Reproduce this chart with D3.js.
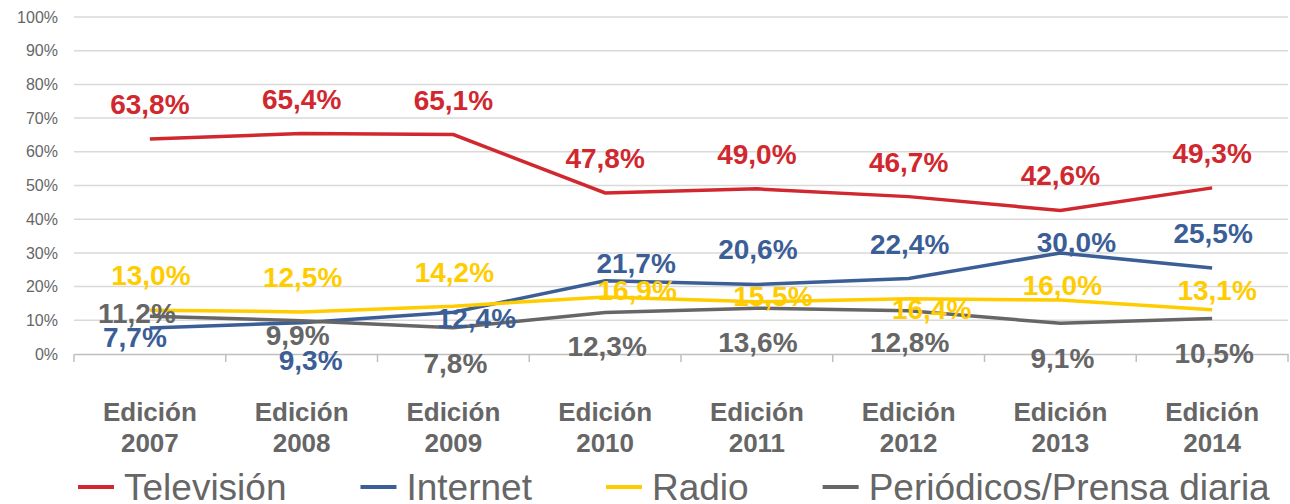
<!DOCTYPE html>
<html>
<head>
<meta charset="utf-8">
<script src="https://cdn.jsdelivr.net/npm/d3@7"></script>
<style>
  html, body { margin: 0; padding: 0; background: #fff; }
  svg { display: block; font-family: "Liberation Sans", Arial, sans-serif; }
</style>
</head>
<body>
<div id="chart"></div>
<script>
// data
const editions = ["2007", "2008", "2009", "2010", "2011", "2012", "2013", "2014"];
const yTicks = [0, 10, 20, 30, 40, 50, 60, 70, 80, 90, 100];
const television = [63.8, 65.4, 65.1, 47.8, 49.0, 46.7, 42.6, 49.3];
const internet = [7.7, 9.3, 12.4, 21.7, 20.6, 22.4, 30.0, 25.5];
const radio = [13.0, 12.5, 14.2, 16.9, 15.5, 16.4, 16.0, 13.1];
const prensa = [11.2, 9.9, 7.8, 12.3, 13.6, 12.8, 9.1, 10.5];
const seriesNames = ["Televisión", "Internet", "Radio", "Periódicos/Prensa diaria"];

const colors = ["#d0282e", "#3b5e96", "#ffcc00", "#666666"];
const allSeries = [television, internet, radio, prensa];

// label offsets (dx, baseline dy) from each point, as placed in the original
const labelOffsets = [
    [[0, -25], [0, -25], [0, -25], [0, -25], [0, -25], [0, -25], [0, -25], [0, -25]],
    [[-15, 19], [9, 47], [23, 16], [31, -8], [1, -26], [1, -25], [16, -1], [1, -25]],
    [[1, -25], [1, -25], [1, -24], [32, 3], [16, 4], [23, 20], [2, -5], [5, -10]],
    [[-13, 7], [-4, 24], [2, 45], [2, 43], [1, 44], [1, 41], [2, 45], [2, 44]]
];

const svgWidth = 1290;
const svgHeight = 504;
const margin = { top: 17, right: 2, bottom: 150, left: 74 };
const width = svgWidth - margin.left - margin.right;
const height = svgHeight - margin.top - margin.bottom;

const svg = d3.select("#chart")
    .append("svg")
    .attr("width", svgWidth)
    .attr("height", svgHeight);

const g = svg.append("g")
    .attr("transform", `translate(${margin.left},${margin.top})`);

const xScale = d3.scaleBand()
    .domain(editions)
    .range([0, width]);

const yScale = d3.scaleLinear()
    .domain([0, 100])
    .range([height, 0]);

// gridlines
g.selectAll(".grid")
    .data(yTicks.filter(d => d > 0))
    .enter()
    .append("line")
    .attr("x1", 0)
    .attr("x2", width)
    .attr("y1", d => yScale(d))
    .attr("y2", d => yScale(d))
    .attr("stroke", "#d9d9d9")
    .attr("stroke-width", 1.5);

// y axis labels
const yAxis = g.append("g")
    .call(d3.axisLeft(yScale).tickValues(yTicks).tickFormat(d => d + "%").tickSize(0).tickPadding(16));
yAxis.select(".domain").remove();
yAxis.selectAll("text")
    .attr("fill", "#666")
    .style("font-size", "16px")
    .style("font-family", "'Liberation Sans', Arial, sans-serif");

// x axis line with ticks between categories
const xAxis = g.append("g")
    .attr("transform", `translate(0,${height})`)
    .call(d3.axisBottom(xScale).tickSize(0).tickFormat(""));
xAxis.select(".domain").attr("stroke", "#bfbfbf").attr("stroke-width", 1.5);
xAxis.selectAll(".tick").remove();
g.selectAll(".xtick")
    .data(editions.concat(["end"]))
    .enter()
    .append("line")
    .attr("x1", (d, i) => i * xScale.bandwidth())
    .attr("x2", (d, i) => i * xScale.bandwidth())
    .attr("y1", height)
    .attr("y2", height + 8)
    .attr("stroke", "#bfbfbf")
    .attr("stroke-width", 1.5);

// category labels
const catLabels = g.selectAll(".cat")
    .data(editions)
    .enter()
    .append("text")
    .attr("text-anchor", "middle")
    .attr("fill", "#666")
    .style("font-size", "26px")
    .style("font-weight", "bold");
catLabels.append("tspan")
    .attr("x", d => xScale(d) + xScale.bandwidth() / 2)
    .attr("y", 421 - margin.top)
    .text("Edición");
catLabels.append("tspan")
    .attr("x", d => xScale(d) + xScale.bandwidth() / 2)
    .attr("y", 452 - margin.top)
    .text(d => d);

// lines
const line = d3.line()
    .x((d, i) => xScale(editions[i]) + xScale.bandwidth() / 2)
    .y(d => yScale(d));

allSeries.forEach((values, s) => {
    g.append("path")
        .datum(values)
        .attr("fill", "none")
        .attr("stroke", colors[s])
        .attr("stroke-width", 3.5)
        .attr("d", line);
});

// data labels
allSeries.forEach((values, s) => {
    g.selectAll(".lbl" + s)
        .data(values)
        .enter()
        .append("text")
        .attr("x", (d, i) => xScale(editions[i]) + xScale.bandwidth() / 2 + labelOffsets[s][i][0])
        .attr("y", (d, i) => yScale(d) + labelOffsets[s][i][1])
        .attr("text-anchor", "middle")
        .attr("fill", colors[s])
        .style("font-size", "28px")
        .style("font-weight", "bold")
        .text(d => d.toFixed(1).replace(".", ",") + "%");
});

// legend
const legend = svg.append("g").attr("transform", "translate(78,487)");
let lx = 0;
seriesNames.forEach((name, s) => {
    legend.append("line")
        .attr("x1", lx)
        .attr("x2", lx + 36)
        .attr("y1", 0)
        .attr("y2", 0)
        .attr("stroke", colors[s])
        .attr("stroke-width", 4);
    const t = legend.append("text")
        .attr("x", lx + 46)
        .attr("y", 13)
        .attr("fill", "#666")
        .style("font-size", "37px")
        .text(name);
    lx += 46 + t.node().getComputedTextLength() + 74;
});
</script>
</body>
</html>
